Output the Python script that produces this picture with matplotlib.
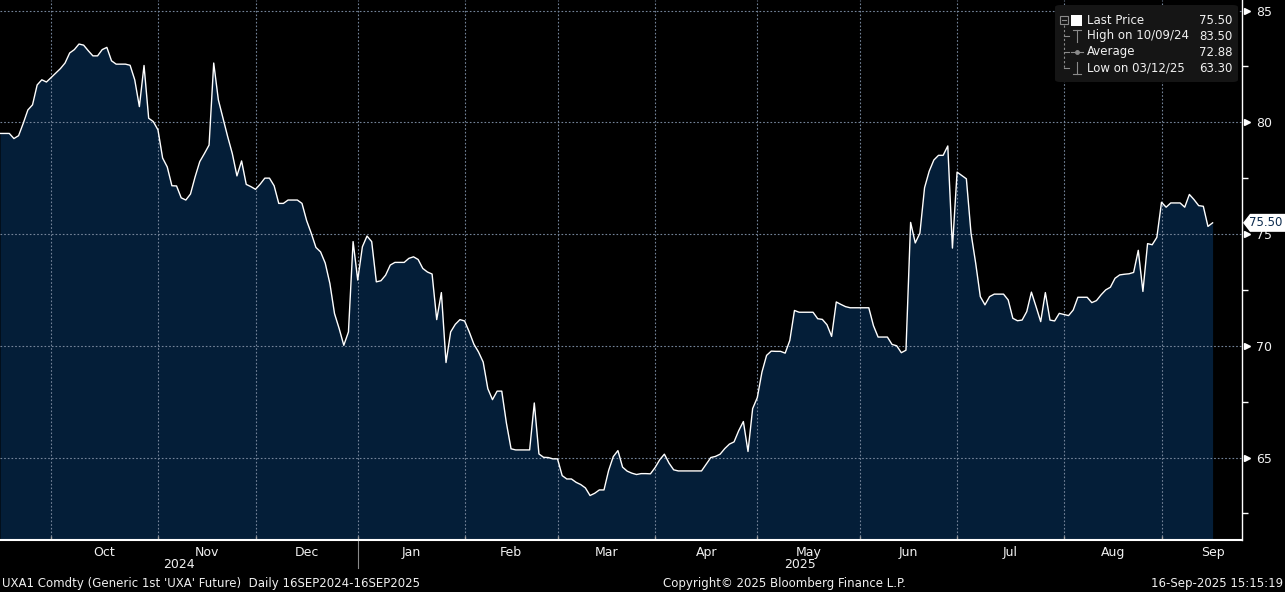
import numpy as np
import pandas as pd
import matplotlib
matplotlib.use("Agg")
import matplotlib.pyplot as plt
import matplotlib.transforms as mtransforms
from matplotlib.lines import Line2D
from matplotlib.patches import FancyBboxPatch, Polygon, Rectangle

# Datos (un valor por dia habil, 16SEP2024 - 16SEP2025)
start_date = "2024-09-16"
end_date = "2025-09-16"
prices = [
    79.5, 79.5, 79.5, 79.27, 79.4, 79.95, 80.55, 80.78, 81.67, 81.9,
    81.8, 82.0, 82.2, 82.4, 82.65, 83.1, 83.25, 83.5, 83.45, 83.2,
    82.97, 82.97, 83.25, 83.35, 82.75, 82.6, 82.6, 82.6, 82.55, 81.9,
    80.7, 82.54, 80.18, 80.03, 79.66, 78.4, 78.0, 77.16, 77.15, 76.62,
    76.52, 76.79, 77.56, 78.24, 78.6, 78.98, 82.65, 81.0, 80.18, 79.36,
    78.6, 77.6, 78.27, 77.22, 77.12, 77.0, 77.23, 77.5, 77.5, 77.16,
    76.37, 76.37, 76.52, 76.52, 76.52, 76.37, 75.6, 75.03, 74.4, 74.2,
    73.7, 72.79, 71.44, 70.77, 70.02, 70.62, 74.66, 72.94, 74.43, 74.91,
    74.66, 72.86, 72.91, 73.16, 73.61, 73.73, 73.73, 73.73, 73.91, 73.98,
    73.86, 73.46, 73.3, 73.21, 71.17, 72.38, 69.25, 70.62, 70.96, 71.17,
    71.11, 70.62, 70.07, 69.72, 69.27, 68.08, 67.59, 67.97, 67.97, 66.54,
    65.39, 65.34, 65.34, 65.34, 65.34, 67.44, 65.16, 65.01, 65.0, 64.94,
    64.94, 64.19, 64.04, 64.04, 63.89, 63.79, 63.64, 63.3, 63.4, 63.55,
    63.55, 64.42, 65.04, 65.31, 64.57, 64.39, 64.3, 64.24, 64.28, 64.28,
    64.27, 64.55, 64.9, 65.15, 64.75, 64.45, 64.4, 64.4, 64.4, 64.4,
    64.4, 64.4, 64.7, 65.0, 65.05, 65.15, 65.4, 65.6, 65.7, 66.2,
    66.61, 65.27, 67.19, 67.68, 68.82, 69.57, 69.76, 69.75, 69.75, 69.67,
    70.24, 71.58, 71.5, 71.5, 71.5, 71.5, 71.21, 71.18, 70.94, 70.42,
    71.96, 71.85, 71.75, 71.7, 71.7, 71.7, 71.7, 71.7, 70.9, 70.39,
    70.39, 70.39, 70.06, 70.0, 69.69, 69.8, 75.52, 74.6, 75.04, 77.07,
    77.81, 78.31, 78.52, 78.52, 78.94, 74.37, 77.77, 77.62, 77.47, 75.04,
    73.7, 72.2, 71.83, 72.2, 72.31, 72.31, 72.31, 72.05, 71.23, 71.12,
    71.15, 71.53, 72.4, 71.75, 71.08, 72.38, 71.15, 71.11, 71.45, 71.4,
    71.35, 71.6, 72.17, 72.17, 72.17, 71.93, 72.02, 72.28, 72.5, 72.62,
    73.02, 73.17, 73.2, 73.22, 73.28, 74.27, 72.43, 74.57, 74.52, 74.85,
    76.42, 76.2, 76.39, 76.39, 76.39, 76.2, 76.77, 76.54, 76.27, 76.24,
    75.34, 75.5,
]
y_ticks = [65, 70, 75, 80, 85]
y_minor_ticks = [62.5, 67.5, 72.5, 77.5, 82.5]
last_price = 75.50
legend_labels = ["Last Price", "High on 10/09/24", "Average", "Low on 03/12/25"]
legend_values = ["75.50", "83.50", "72.88", "63.30"]
footer_left = "UXA1 Comdty (Generic 1st 'UXA' Future)  Daily 16SEP2024-16SEP2025"
footer_mid = "Copyright\u00a9 2025 Bloomberg Finance L.P."
footer_right = "16-Sep-2025 15:15:19"

W, H = 1285, 592
FILL = "#041e38"
GRID = "#75859a"
TEXT = "#f0f0f0"
FS = 8.5  # texto pequeño (leyenda, pie)

plt.rcParams["font.family"] = ["DejaVu Sans"]


def px(x, y):
    """Pixel (origen arriba-izquierda) a fraccion de figura."""
    return x / W, 1 - y / H


def draw_legend(fig):
    """Cuadro de leyenda estilo Bloomberg."""
    x0, y1 = px(1055, 82)
    box = FancyBboxPatch((x0, y1), 183 / W, 77 / H, boxstyle="round,pad=0,rounding_size=0.004",
                         transform=fig.transFigure, fc="#151515", ec="none", zorder=5)
    fig.add_artist(box)
    rows_y = [20, 36, 52, 68]
    for label, value, ry in zip(legend_labels, legend_values, rows_y):
        fig.text(*px(1087, ry), label, color=TEXT, fontsize=FS, va="center", ha="left", zorder=6)
        fig.text(*px(1232, ry), value, color=TEXT, fontsize=FS, va="center", ha="right", zorder=6)

    gray = "#8a8a8a"
    tf = fig.transFigure

    def seg(xs, ys, ls="-"):
        pts = [px(a, b) for a, b in zip(xs, ys)]
        fig.add_artist(Line2D([p[0] for p in pts], [p[1] for p in pts], transform=tf,
                              color=gray, lw=0.8, ls=ls, zorder=6))

    # arbol
    fig.add_artist(Rectangle(px(1060, 24), 8 / W, 8 / H, transform=tf, fc="none", ec=gray, lw=0.8, zorder=6))
    seg([1062, 1066], [20, 20])
    seg([1064, 1064], [25, 68], ls=(0, (2, 2)))
    for ry in rows_y[1:]:
        seg([1064, 1069], [ry, ry])
    fig.add_artist(Rectangle(px(1071, 26), 11 / W, 11 / H, transform=tf, fc="white", ec="none", zorder=6))
    # High
    seg([1073, 1081], [30, 30])
    seg([1077, 1077], [30, 42])
    # Average
    seg([1071, 1083], [52, 52])
    fig.add_artist(Line2D([px(1077, 52)[0]], [px(1077, 52)[1]], transform=tf, marker="o", ms=2.5,
                          color=gray, zorder=6))
    # Low
    seg([1077, 1077], [62, 74])
    seg([1073, 1081], [74, 74])


def main():
    dates = pd.bdate_range(start_date, end_date)
    x = np.arange(len(dates))
    y = np.array(prices)

    fig = plt.figure(figsize=(W / 100, H / 100), dpi=100, facecolor="black")
    ax = fig.add_axes([0, 52 / H, 1242 / W, 540 / H])
    ax.set_facecolor("black")

    xmax = 1242 / 4.646
    ax.set_xlim(0, xmax)
    ax.set_ylim(61.31, 85.47)

    ax.fill_between(x, y, 61.31, color=FILL, lw=0, zorder=1)
    ax.plot(x, y, color="white", lw=1.0, zorder=3)

    # meses
    months = dates.to_period("M")
    starts = [i for i in range(1, len(dates)) if months[i] != months[i - 1]]
    centers, labels = [], []
    for i in starts:
        m = months[i]
        n = len(pd.bdate_range(m.start_time, m.end_time))
        centers.append(i + n / 2)
        labels.append(dates[i].strftime("%b"))
    ax.set_xticks(starts)
    ax.set_xticklabels([])
    ax.set_xticks(centers, minor=True)
    ax.set_xticklabels(labels, minor=True)
    ax.tick_params(axis="x", which="major", direction="in", length=3, color="#9a9a9a", width=1)
    ax.tick_params(axis="x", which="minor", length=0, pad=4, labelcolor=TEXT, labelsize=9)

    jan = [i for i in starts if dates[i].month == 1][0]
    trans_x = mtransforms.blended_transform_factory(ax.transData, fig.transFigure)
    ax.text(jan / 2, 1 - 565 / H, "2024", transform=trans_x, ha="center", va="center",
            color=TEXT, fontsize=9)
    ax.text((jan + xmax) / 2, 1 - 565 / H, "2025", transform=trans_x, ha="center", va="center",
            color=TEXT, fontsize=9)
    fig.add_artist(Line2D([jan, jan], [1 - 541 / H, 1 - 568 / H], transform=trans_x, color="#8a8a8a", lw=0.8))

    # eje y a la derecha
    ax.yaxis.tick_right()
    ax.set_yticks(y_ticks)
    ax.set_yticks(y_minor_ticks, minor=True)
    ax.tick_params(axis="y", which="major", length=0, pad=10, labelcolor=TEXT, labelsize=9)
    ax.tick_params(axis="y", which="minor", length=4, color="white", width=1, direction="out")
    trans_y = mtransforms.blended_transform_factory(ax.transAxes, ax.transData)
    ax.plot([1.004] * len(y_ticks), y_ticks, ls="none", marker=">", ms=4, color="white",
            transform=trans_y, clip_on=False)

    ax.grid(True, which="major", color=GRID, ls=(0, (1.5, 1.8)), lw=0.8)

    for side in ["left", "top"]:
        ax.spines[side].set_visible(False)
    ax.spines["bottom"].set_color("white")
    ax.spines["bottom"].set_linewidth(1.5)
    ax.spines["right"].set_color("white")
    ax.spines["right"].set_linewidth(1.0)

    # etiqueta del ultimo precio
    fig.canvas.draw()
    yc = ax.transData.transform((0, last_price))[1]
    yc_top = H - yc
    pts = [(1243, yc_top), (1250, yc_top - 9), (1285, yc_top - 9), (1285, yc_top + 9), (1250, yc_top + 9)]
    fig.add_artist(Polygon([px(a, b) for a, b in pts], closed=True, transform=fig.transFigure,
                           fc="white", ec="none", zorder=7))
    fig.text(*px(1266, yc_top), f"{last_price:.2f}", color="#0b2a4d", fontsize=8.5,
             ha="center", va="center", zorder=8)

    draw_legend(fig)

    fig.text(*px(2, 583), footer_left, color=TEXT, fontsize=FS, ha="left", va="center")
    fig.text(*px(784, 583), footer_mid, color=TEXT, fontsize=FS, ha="center", va="center")
    fig.text(*px(1283, 583), footer_right, color=TEXT, fontsize=FS, ha="right", va="center")

    fig.savefig("out.png", dpi=100, facecolor="black")


if __name__ == "__main__":
    main()
